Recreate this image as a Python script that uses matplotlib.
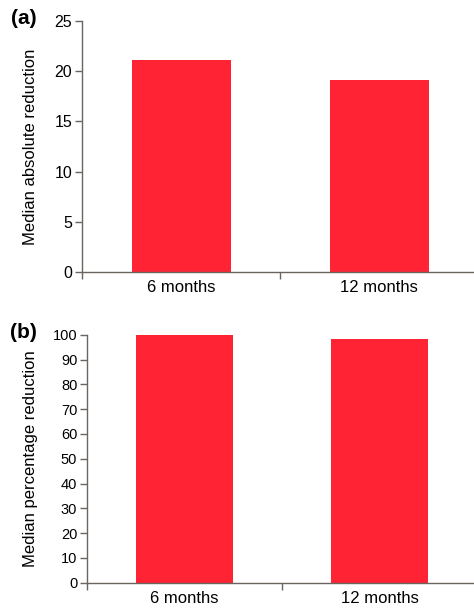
import matplotlib
matplotlib.use("Agg")
import matplotlib.pyplot as plt

categories = ["6 months", "12 months"]
abs_reduction = [21.1, 19.15]
pct_reduction = [99.8, 98.3]
abs_ticks = [0, 5, 10, 15, 20, 25]
pct_ticks = list(range(0, 101, 10))

plt.rcParams['font.family'] = ['Liberation Sans', 'DejaVu Sans']
W, H = 474, 608
fig = plt.figure(figsize=(W / 100, H / 100), dpi=100)

axis_col = "#6b6560"
bar_col = "#ff2334"

def panel(rect, values, ticks, ylabel, letter, letter_xy, tick_size, ylabel_x):
    ax = fig.add_axes(rect)
    x = list(range(len(categories)))
    ax.bar(x, values, width=0.5, color=bar_col, edgecolor="none")
    ax.set_xlim(-0.5, len(categories) - 0.5)
    ax.set_ylim(ticks[0], ticks[-1])
    ax.set_yticks(ticks)
    ax.set_xticks(x)
    ax.set_xticklabels(categories, fontsize=12)
    ax.tick_params(axis='x', which='major', length=0, pad=6)
    ax.set_xticks([-0.5 + i for i in range(len(categories) + 1)], minor=True)
    ax.tick_params(axis='x', which='minor', length=5, width=1, color=axis_col, direction='out')
    ax.tick_params(axis='y', length=5, width=1, color=axis_col, labelsize=tick_size, pad=2)
    for s in ['top', 'right']:
        ax.spines[s].set_visible(False)
    for s in ['left', 'bottom']:
        ax.spines[s].set_color(axis_col)
        ax.spines[s].set_linewidth(1)
    ax.set_ylabel(ylabel, fontsize=12)
    ax.yaxis.set_label_coords((ylabel_x - rect[0] * W) / (rect[2] * W), 0.5)
    fig.text(letter_xy[0] / W, 1 - letter_xy[1] / H, letter, fontsize=15,
             fontweight='bold', ha='left', va='center')
    return ax

axa = panel([82 / W, 1 - 272 / H, 396 / W, 251 / H], abs_reduction, abs_ticks,
            "Median absolute reduction", "(a)", (11, 18), 11.5, 38)
axb = panel([87 / W, 1 - 582.7 / H, 390 / W, 248 / H], pct_reduction, pct_ticks,
            "Median percentage reduction", "(b)", (10, 332), 10.5, 38)

fig.savefig("out.png", dpi=100)
